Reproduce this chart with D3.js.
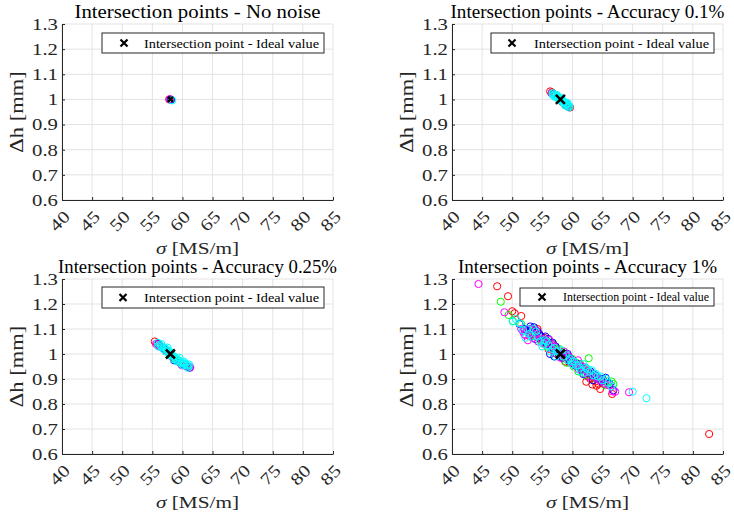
<!DOCTYPE html>
<html><head><meta charset="utf-8">
<script src="https://cdn.jsdelivr.net/npm/d3@7"></script>
<style>body{margin:0;background:#fff}svg{display:block}</style>
</head><body><svg id="c" width="734" height="519"></svg>
<script>
// ---------- DATA ----------
const xTicks = [40, 45, 50, 55, 60, 65, 70, 75, 80, 85];
const yTicks = [0.6, 0.7, 0.8, 0.9, 1.0, 1.1, 1.2, 1.3];
const yTickLabels = ["0.6", "0.7", "0.8", "0.9", "1", "1.1", "1.2", "1.3"];
const panelTitles = ["Intersection points - No noise", "Intersection points - Accuracy 0.1%",
  "Intersection points - Accuracy 0.25%", "Intersection points - Accuracy 1%"];
const xLabel = "[MS/m]";
const yLabel = "Δh [mm]";
const legendLabel = "Intersection point - Ideal value";
const idealPoint = [58.0, 1.0];
const seriesNames = ["red", "green", "blue", "magenta", "cyan"];
const seriesColors = ["#ff0000", "#00ff00", "#0000ff", "#ff00ff", "#00ffff"];

// Panel 1 - no noise
const p1Red = [[57.8, 1.0]];
const p1Green = [[58.0, 1.0]];
const p1Blue = [[58.1, 0.999]];
const p1Magenta = [[57.9, 1.001]];
const p1Cyan = [[58.3, 0.996]];

// Panel 2 - accuracy 0.1%
const p2Red = [[56.3, 1.032], [56.6, 1.028], [57.0, 1.02], [57.5, 1.01], [58.3, 0.99], [58.8, 0.98], [59.1, 0.975], [59.4, 0.97], [59.6, 0.968]];
const p2Green = [[56.8, 1.022], [57.4, 1.012], [58.0, 1.0], [58.6, 0.99], [59.2, 0.978]];
const p2Blue = [[56.9, 1.02], [57.6, 1.008], [58.2, 0.998], [58.9, 0.985], [59.3, 0.973]];
const p2Magenta = [[56.5, 1.025], [57.1, 1.018], [57.9, 1.003], [58.5, 0.99], [59.0, 0.978], [59.4, 0.972]];
const p2Cyan = [[56.7, 1.025], [56.9, 1.019], [57.1, 1.017], [57.3, 1.012], [57.5, 1.011], [57.7, 1.005], [57.9, 1.003], [58.1, 0.997], [58.3, 0.996],
  [58.5, 0.991], [58.7, 0.989], [58.9, 0.983], [59.1, 0.981], [59.3, 0.975], [59.5, 0.973], [57.2, 1.009], [58.0, 1.006], [58.6, 0.985], [59.0, 0.979],
  [56.8, 1.015], [57.4, 1.018], [58.2, 1.004], [58.4, 0.99], [59.2, 0.985], [59.4, 0.968], [57.8, 0.998], [58.8, 0.976]];

// Panel 3 - accuracy 0.25%
const p3Red = [[55.4, 1.05], [55.8, 1.042], [56.2, 1.035], [57.2, 1.015], [58.5, 0.985], [59.6, 0.965], [60.5, 0.955], [61.0, 0.95]];
const p3Green = [[56.5, 1.03], [57.8, 1.0], [58.8, 0.98], [59.3, 0.975], [60.2, 0.96], [61.0, 0.948]];
const p3Blue = [[56.0, 1.04], [57.0, 1.02], [58.6, 0.975], [59.8, 0.96], [60.6, 0.952], [61.2, 0.945]];
const p3Magenta = [[55.6, 1.04], [56.2, 1.03], [57.5, 1.01], [58.2, 0.99], [59.9, 0.955], [60.8, 0.95], [61.3, 0.947]];
const p3Cyan = [[55.9, 1.045], [56.3, 1.035], [56.6, 1.03], [57.0, 1.025], [57.3, 1.02], [57.6, 1.01], [58.0, 1.005], [58.3, 0.995], [58.6, 0.99], [59.0, 0.985],
  [59.3, 0.975], [59.7, 0.97], [60.0, 0.965], [60.3, 0.96], [60.7, 0.955], [61.0, 0.952], [56.8, 1.02], [58.9, 0.978], [60.5, 0.962], [57.9, 0.995],
  [56.0, 1.03], [56.5, 1.04], [57.2, 1.01], [57.5, 1.025], [58.2, 1.0], [58.5, 0.98], [59.1, 0.97], [59.5, 0.985], [60.1, 0.955], [60.2, 0.97],
  [60.9, 0.945], [61.1, 0.958], [57.8, 1.012], [59.8, 0.962]];

// Panel 4 - accuracy 1%
const p4Red = [[47.5, 1.271], [49.3, 1.231], [50.0, 1.171], [50.4, 1.163], [51.5, 1.152], [52.5, 1.09], [53.0, 1.07], [53.5, 1.08], [54.2, 1.1], [55.0, 1.06],
  [55.8, 1.05], [56.0, 1.02], [56.5, 1.03], [57.3, 1.02], [58.2, 0.99], [58.8, 0.97], [59.0, 0.985], [59.8, 0.975], [60.5, 0.96], [61.2, 0.95],
  [62.0, 0.94], [62.3, 0.889], [62.8, 0.92], [63.3, 0.878], [63.5, 0.905], [64.0, 0.873], [64.6, 0.86], [65.2, 0.88], [66.6, 0.84], [82.7, 0.68],
  [52.8, 1.1], [53.8, 1.09], [54.5, 1.075], [55.3, 1.065], [56.8, 1.04], [57.8, 1.0], [59.5, 0.965], [60.2, 0.97], [61.6, 0.94], [62.5, 0.91],
  [63.0, 0.9], [63.8, 0.89], [64.3, 0.88], [61.0, 0.96], [57.0, 1.005], [55.0, 1.045]];
const p4Green = [[48.1, 1.209], [49.4, 1.156], [50.1, 1.132], [54.0, 1.07], [55.5, 1.05], [56.8, 1.04], [57.0, 1.005], [57.6, 1.02], [58.5, 1.01], [59.0, 0.965],
  [59.3, 0.99], [60.0, 0.98], [60.2, 0.95], [60.6, 0.965], [61.0, 0.93], [61.3, 0.96], [61.8, 0.945], [62.5, 0.93], [62.7, 0.983], [63.2, 0.92],
  [64.0, 0.9], [64.8, 0.895], [65.5, 0.875], [65.8, 0.89], [66.5, 0.89], [66.8, 0.88],
  [51.5, 1.12], [52.8, 1.08], [53.3, 1.09], [54.8, 1.055], [55.8, 1.03], [56.3, 1.045], [57.8, 1.02], [58.2, 0.99], [59.6, 0.975], [60.3, 0.965],
  [60.9, 0.95], [61.5, 0.935], [62.2, 0.915], [63.5, 0.91], [64.3, 0.905], [65.2, 0.885], [58.8, 1.0]];
const p4Blue = [[51.2, 1.12], [52.4, 1.095], [53.0, 1.11], [53.6, 1.107], [53.8, 1.06], [54.5, 1.08], [55.5, 1.07], [56.0, 1.06], [56.3, 1.0], [56.7, 1.045],
  [57.0, 0.99], [57.5, 1.01], [58.3, 0.985], [59.2, 1.0], [59.7, 0.98], [60.0, 0.97], [60.8, 0.96], [61.5, 0.94], [61.8, 0.92], [62.2, 0.945],
  [63.0, 0.93], [63.4, 0.895], [63.8, 0.915], [64.5, 0.9], [65.5, 0.905], [66.8, 0.855],
  [52.0, 1.1], [52.8, 1.085], [53.3, 1.1], [54.2, 1.09], [54.8, 1.07], [55.2, 1.05], [55.8, 1.04], [57.2, 1.03], [57.8, 0.995], [58.6, 1.0],
  [59.0, 0.99], [59.6, 0.97], [60.4, 0.955], [61.2, 0.95], [62.6, 0.925], [63.3, 0.92], [64.0, 0.905], [64.8, 0.89], [66.2, 0.88], [65.0, 0.9]];
const p4Magenta = [[44.4, 1.28], [48.7, 1.167], [51.8, 1.09], [52.2, 1.075], [52.6, 1.055], [53.2, 1.085], [53.5, 1.065], [54.0, 1.095], [54.8, 1.06], [55.5, 1.04],
  [56.2, 1.055], [57.0, 1.03], [57.8, 1.005], [58.0, 0.985], [58.6, 1.01], [59.4, 0.99], [60.1, 0.965], [60.9, 0.975], [61.0, 0.94], [61.6, 0.95],
  [62.4, 0.93], [62.8, 0.91], [63.1, 0.925], [63.9, 0.905], [64.6, 0.895], [65.4, 0.88], [66.7, 0.85], [67.1, 0.849], [69.4, 0.847],
  [51.5, 1.1], [52.0, 1.08], [52.9, 1.1], [53.8, 1.08], [54.3, 1.05], [55.2, 1.06], [56.5, 1.04], [56.8, 1.015], [57.4, 1.0], [58.3, 0.995],
  [59.0, 0.995], [59.8, 0.975], [60.5, 0.96], [61.3, 0.955], [62.0, 0.935], [63.5, 0.915], [64.2, 0.9], [65.0, 0.89], [66.0, 0.875]];
const p4Cyan = [[50.1, 1.13], [50.6, 1.14], [51.2, 1.123], [52.5, 1.1], [53.2, 1.07], [53.9, 1.09], [54.6, 1.05], [55.0, 1.03], [55.4, 1.055], [56.0, 1.035],
  [56.7, 1.02], [57.2, 0.99], [57.4, 1.01], [58.1, 1.015], [58.9, 0.995], [59.6, 0.98], [59.9, 0.96], [60.3, 0.97], [61.0, 0.955], [61.4, 0.93],
  [61.8, 0.96], [62.0, 0.925], [62.5, 0.94], [63.2, 0.935], [63.9, 0.92], [64.7, 0.91], [65.6, 0.9], [66.5, 0.87], [70.0, 0.849], [72.3, 0.823],
  [51.8, 1.095], [52.2, 1.065], [52.8, 1.08], [53.5, 1.1], [54.2, 1.07], [55.2, 1.04], [55.7, 1.05], [56.4, 1.01], [57.0, 1.025], [57.8, 1.005],
  [58.5, 0.99], [59.2, 0.975], [60.0, 0.97], [60.6, 0.955], [61.2, 0.945], [62.2, 0.945], [62.8, 0.93], [63.5, 0.915], [64.2, 0.91], [65.0, 0.895], [66.0, 0.885]];

const panelSeries = [
  [p1Red, p1Green, p1Blue, p1Magenta, p1Cyan],
  [p2Red, p2Green, p2Blue, p2Magenta, p2Cyan],
  [p3Red, p3Green, p3Blue, p3Magenta, p3Cyan],
  [p4Red, p4Green, p4Blue, p4Magenta, p4Cyan]
];

// ---------- LAYOUT ----------
const FONT = "'Liberation Serif','Times New Roman',serif";
const panels = [
  {l: 62, t: 24, r: 333, b: 200, lg: {x: 102, y: 33, w: 222, h: 20, fs: 13.5, mx: 124, tx: 144, tw: 175, ms: 3.5}, tw: 246},
  {l: 452, t: 24, r: 723, b: 200, lg: {x: 491, y: 33, w: 223, h: 20, fs: 13.5, mx: 512, tx: 534, tw: 175, ms: 3.5}, tw: 274},
  {l: 62, t: 279, r: 333, b: 454, lg: {x: 102, y: 287, w: 222, h: 21, fs: 13.5, mx: 123, tx: 144, tw: 175, ms: 3.5}, tw: 279},
  {l: 452, t: 279, r: 723, b: 454, lg: {x: 520, y: 288, w: 194, h: 18, fs: 12, mx: 542, tx: 563, tw: 146, ms: 3.5}, tw: 259}
];

const svg = d3.select("#c");
const TICK_FS = 17, TICK_SX = 1.22;

function sText(g, x, y, str, o) {
  return g.append("text")
    .attr("transform", `translate(${x},${y}) rotate(${o.rot || 0}) scale(${o.sx || 1},1)`)
    .attr("text-anchor", o.anchor || "start")
    .attr("dominant-baseline", o.base || "auto")
    .attr("font-family", FONT)
    .attr("font-size", o.size)
    .attr("fill", o.fill || "#262626")
    .text(str);
}

function xMark(g, cx, cy, s, w) {
  g.append("path")
    .attr("d", `M${cx - s},${cy - s}L${cx + s},${cy + s}M${cx - s},${cy + s}L${cx + s},${cy - s}`)
    .attr("stroke", "#000").attr("stroke-width", w).attr("fill", "none");
}

panels.forEach((P, i) => {
  const g = svg.append("g");
  const x = d3.scaleLinear().domain([xTicks[0], xTicks[xTicks.length - 1]]).range([P.l, P.r]);
  const y = d3.scaleLinear().domain([yTicks[0], yTicks[yTicks.length - 1]]).range([P.b, P.t]);

  // grid
  const grid = g.append("g").attr("stroke", "#e3e3e3").attr("stroke-width", 1);
  xTicks.forEach(v => grid.append("line").attr("x1", x(v)).attr("x2", x(v)).attr("y1", P.t).attr("y2", P.b));
  yTicks.forEach(v => grid.append("line").attr("x1", P.l).attr("x2", P.r).attr("y1", y(v)).attr("y2", y(v)));

  // axes via d3 axis (inward ticks)
  const xa = g.append("g").attr("transform", `translate(0,${P.b})`)
    .call(d3.axisBottom(x).tickValues(xTicks).tickSizeInner(-3).tickSizeOuter(0).tickFormat(""));
  const ya = g.append("g").attr("transform", `translate(${P.l},0)`)
    .call(d3.axisLeft(y).tickValues(yTicks).tickSizeInner(-3).tickSizeOuter(0).tickFormat(""));
  [xa, ya].forEach(a => { a.selectAll("path,line").attr("stroke", "#262626").attr("stroke-width", 1); });

  // tick labels
  xTicks.forEach(v => sText(g, x(v) - 2.5, P.b + 21, String(v), {size: TICK_FS, sx: TICK_SX, rot: -45, anchor: "middle", base: "central"}));
  yTicks.forEach((v, k) => sText(g, P.l - 4, y(v), yTickLabels[k], {size: TICK_FS, sx: TICK_SX, anchor: "end", base: "central"}));

  // axis labels
  const xl = g.append("text")
    .attr("transform", `translate(${(P.l + P.r) / 2},${P.b + 48}) scale(1.25,1)`)
    .attr("text-anchor", "middle").attr("dominant-baseline", "central")
    .attr("font-family", FONT).attr("font-size", 17).attr("fill", "#262626");
  xl.append("tspan").attr("font-style", "italic").text("σ");
  xl.append("tspan").text(" " + xLabel);
  sText(g, P.l - 45, (P.t + P.b) / 2, yLabel, {size: 18, sx: 1.25, rot: -90, anchor: "middle", base: "central"});

  // title
  g.append("text")
    .attr("x", (P.l + P.r) / 2).attr("y", P.t - 6)
    .attr("text-anchor", "middle")
    .attr("font-family", FONT).attr("font-size", 18).attr("fill", "#000")
    .attr("textLength", P.tw).attr("lengthAdjust", "spacingAndGlyphs")
    .text(panelTitles[i]);

  // data
  panelSeries[i].forEach((pts, s) => {
    g.append("g").attr("class", "series-" + seriesNames[s])
      .selectAll("circle").data(pts).join("circle")
      .attr("cx", d => x(d[0])).attr("cy", d => y(d[1])).attr("r", 3.6)
      .attr("fill", "none").attr("stroke", seriesColors[s]).attr("stroke-width", 1);
  });
  xMark(g, x(idealPoint[0]), y(idealPoint[1]), i === 0 ? 2.5 : 4.5, 2.5);

  // legend
  const L = P.lg;
  g.append("rect").attr("x", L.x).attr("y", L.y).attr("width", L.w).attr("height", L.h)
    .attr("fill", "#fff").attr("stroke", "#262626").attr("stroke-width", 1);
  xMark(g, L.mx, L.y + L.h / 2, L.ms, 2.2);
  g.append("text").attr("x", L.tx).attr("y", L.y + L.h / 2)
    .attr("dominant-baseline", "central")
    .attr("font-family", FONT).attr("font-size", L.fs).attr("fill", "#000")
    .attr("textLength", L.tw).attr("lengthAdjust", "spacingAndGlyphs")
    .text(legendLabel);
});
</script></body></html>
